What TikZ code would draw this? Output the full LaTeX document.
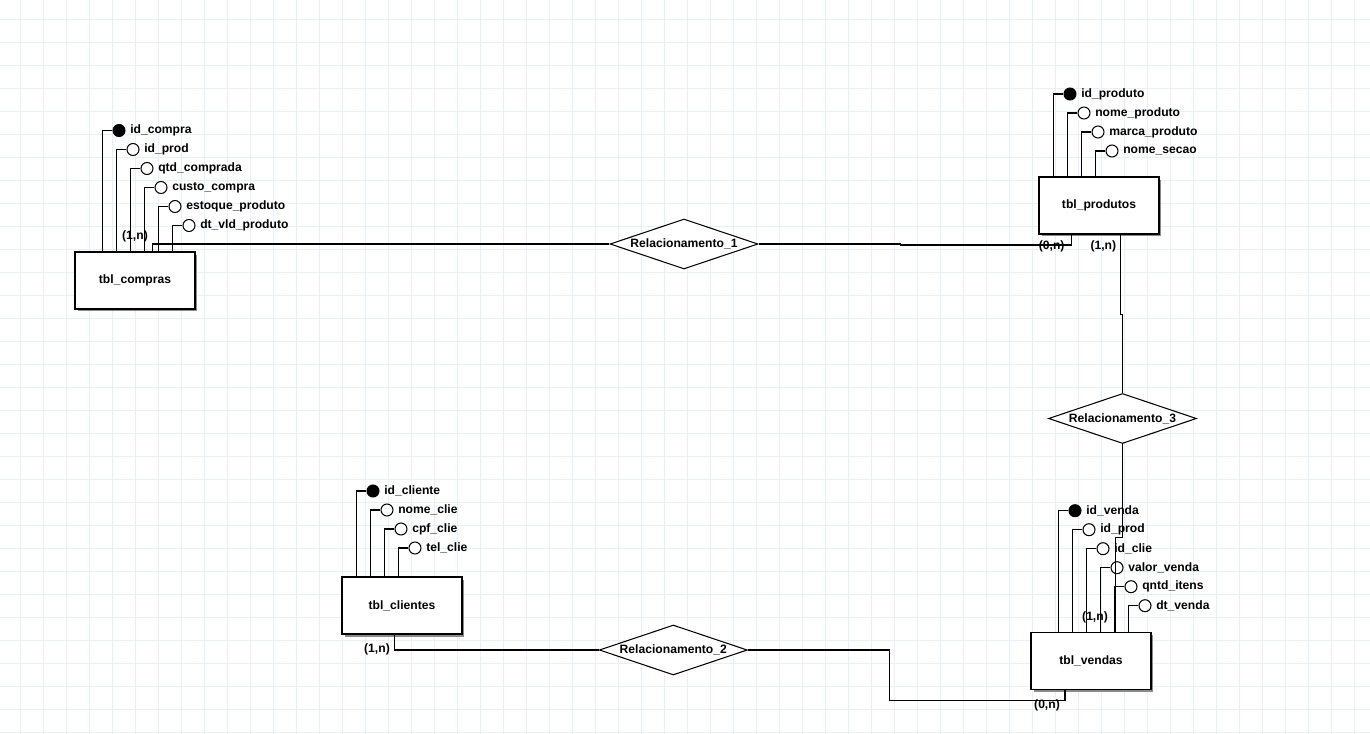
\documentclass[tikz,border=0pt]{standalone}
\usepackage{fontspec}
\setmainfont{Liberation Sans}
\usetikzlibrary{positioning,calc,shapes.geometric,shadows}
\definecolor{gridblue}{HTML}{E7F0F9}
\definecolor{shadowgray}{HTML}{8A8A8A}
\tikzset{
lbl/.style={font=\fontsize{6.9}{8}\selectfont\bfseries,inner sep=1.5pt},
entity/.style={lbl,draw,line width=.6pt,fill=white,minimum width=2.4cm,minimum height=1.14cm,drop shadow={shadow xshift=.05cm,shadow yshift=-.05cm,fill=shadowgray,opacity=1}},
rel/.style={lbl,diamond,draw,line width=.6pt,fill=white,aspect=3,inner sep=0pt,minimum width=2.96cm,minimum height=1cm},
attr/.style={circle,draw,line width=.6pt,fill=white,minimum size=.24cm,inner sep=0pt},
keyattr/.style={attr,fill=black},
card/.style={lbl},
conn/.style={line width=.6pt},
gridline/.style={draw=gridblue,line width=.55pt}}
\begin{document}
\begin{tikzpicture}[x=0.02cm,y=-0.02cm]
\useasboundingbox (0,0) rectangle (1370,734);
\fill[white] (0,0) rectangle (1370,734);
\foreach \gx in {0,...,58} \draw[gridline] ({20.3+23*\gx},0) -- ++(0,734);
\foreach \gy in {0,...,31} \draw[gridline] (0,{19.3+23*\gy}) -- ++(1370,0);
% entities and relationships
\node[entity] (compras) at (135,280.5) {tbl\_compras};
\node[entity] (produtos) at (1099,205.5) {tbl\_produtos};
\node[entity] (clientes) at (402,605.5) {tbl\_clientes};
\node[entity] (vendas) at (1091,661) {tbl\_vendas};
\node[rel] (rel1) at (684,244) {Relacionamento\_1};
\node[rel] (rel2) at (673.3,650) {Relacionamento\_2};
\node[rel] (rel3) at (1122.5,418.5) {Relacionamento\_3};
% attributes of tbl_compras
\node[keyattr] (idcompra) at (119,130.5) {};
\node[attr] (idprodc) at (133,149.5) {};
\node[attr] (qtdcomprada) at (147,168.5) {};
\node[attr] (custocompra) at (161,187.5) {};
\node[attr] (estoqueproduto) at (175,206.5) {};
\node[attr] (dtvldproduto) at (189,225.5) {};
\node[lbl,right=1pt of idcompra] (tidcompra) {id\_compra};
\node[lbl,right=1pt of idprodc] (tidprodc) {id\_prod};
\node[lbl,right=1pt of qtdcomprada] (tqtdcomprada) {qtd\_comprada};
\node[lbl,right=1pt of custocompra] (tcustocompra) {custo\_compra};
\node[lbl,right=1pt of estoqueproduto] (testoqueproduto) {estoque\_produto};
\node[lbl,right=1pt of dtvldproduto] (tdtvldproduto) {dt\_vld\_produto};
\draw[conn] (idcompra.west) -| ($(compras.north west)+(28,0)$);
\draw[conn] (idprodc.west) -| ($(compras.north west)+(42,0)$);
\draw[conn] (qtdcomprada.west) -| ($(compras.north west)+(56,0)$);
\draw[conn] (custocompra.west) -| ($(compras.north west)+(70,0)$);
\draw[conn] (estoqueproduto.west) -| ($(compras.north west)+(84,0)$);
\draw[conn] (dtvldproduto.west) -| ($(compras.north west)+(98,0)$);
% attributes of tbl_produtos
\node[keyattr] (idproduto) at (1070,94) {};
\node[attr] (nomeproduto) at (1084,113) {};
\node[attr] (marcaproduto) at (1098,132) {};
\node[attr] (nomesecao) at (1112,151) {};
\node[lbl,right=1pt of idproduto] (tidproduto) {id\_produto};
\node[lbl,right=1pt of nomeproduto] (tnomeproduto) {nome\_produto};
\node[lbl,right=1pt of marcaproduto] (tmarcaproduto) {marca\_produto};
\node[lbl,right=1pt of nomesecao] (tnomesecao) {nome\_secao};
\draw[conn] (idproduto.west) -| ($(produtos.north west)+(15,0)$);
\draw[conn] (nomeproduto.west) -| ($(produtos.north west)+(29,0)$);
\draw[conn] (marcaproduto.west) -| ($(produtos.north west)+(43,0)$);
\draw[conn] (nomesecao.west) -| ($(produtos.north west)+(57,0)$);
% attributes of tbl_clientes
\node[keyattr] (idcliente) at (373,491) {};
\node[attr] (nomeclie) at (387,510) {};
\node[attr] (cpfclie) at (401,529) {};
\node[attr] (telclie) at (415,548) {};
\node[lbl,right=1pt of idcliente] (tidcliente) {id\_cliente};
\node[lbl,right=1pt of nomeclie] (tnomeclie) {nome\_clie};
\node[lbl,right=1pt of cpfclie] (tcpfclie) {cpf\_clie};
\node[lbl,right=1pt of telclie] (ttelclie) {tel\_clie};
\draw[conn] (idcliente.west) -| ($(clientes.north west)+(15,0)$);
\draw[conn] (nomeclie.west) -| ($(clientes.north west)+(29,0)$);
\draw[conn] (cpfclie.west) -| ($(clientes.north west)+(43,0)$);
\draw[conn] (telclie.west) -| ($(clientes.north west)+(57,0)$);
% attributes of tbl_vendas
\node[keyattr] (idvenda) at (1075,510.7) {};
\node[attr] (idprodv) at (1089,529.7) {};
\node[attr] (idcliev) at (1103,548.7) {};
\node[attr] (valorvenda) at (1117,567.7) {};
\node[attr] (qntditens) at (1131,586.7) {};
\node[attr] (dtvenda) at (1145,605.7) {};
\node[lbl,right=1pt of idvenda] (tidvenda) {id\_venda};
\node[lbl,right=1pt of idprodv] (tidprodv) {id\_prod};
\node[lbl,right=1pt of idcliev] (tidcliev) {id\_clie};
\node[lbl,right=1pt of valorvenda] (tvalorvenda) {valor\_venda};
\node[lbl,right=1pt of qntditens] (tqntditens) {qntd\_itens};
\node[lbl,right=1pt of dtvenda] (tdtvenda) {dt\_venda};
\draw[conn] (idvenda.west) -| ($(vendas.north west)+(28,0)$);
\draw[conn] (idprodv.west) -| ($(vendas.north west)+(42,0)$);
\draw[conn] (idcliev.west) -| ($(vendas.north west)+(56,0)$);
\draw[conn] (valorvenda.west) -| ($(vendas.north west)+(70,0)$);
\draw[conn] (qntditens.west) -| ($(vendas.north west)+(84,0)$);
\draw[conn] (dtvenda.west) -| ($(vendas.north west)+(98,0)$);
% relationship lines
\draw[conn] ($(compras.north west)+(78,0)$) |- (rel1.west);
\draw[conn] (rel1.east) -- ++(142,0) -- ++(0,1) -| ($(produtos.south west)+(33,0)$);
\draw[conn] ($(produtos.south west)+(82,0)$) -- ++(0,80) -| (rel3.north);
\draw[conn] (rel3.south) -- ++(0,93.5) -| ($(vendas.north west)+(85,0)$);
\draw[conn] ($(clientes.south west)+(53,0)$) |- (rel2.west);
\draw[conn] (rel2.east) -| ++(142,50.5) -| ($(vendas.south west)+(34.5,0)$);
% cardinalities
\node[card] (cardcompras) at (135,236.5) {(1,n)};
\node[card] (cardprod1) at (1051.7,246) {(0,n)};
\node[card] (cardprod2) at (1103.3,246) {(1,n)};
\node[card] (cardvenda1) at (1095,617.5) {(1,n)};
\node[card] (cardvenda2) at (1047,705) {(0,n)};
\node[card] (cardclie) at (377,649) {(1,n)};
\end{tikzpicture}
\end{document}
